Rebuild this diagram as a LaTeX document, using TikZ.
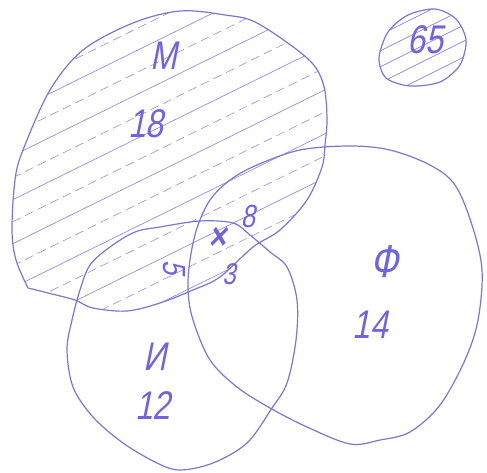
\documentclass[tikz,border=0pt]{standalone}
\usepackage{fontspec}
\newfontfamily\hand[FakeStretch=0.8,FakeSlant=0.2]{Liberation Sans}
\definecolor{pen}{RGB}{122,120,205}
\definecolor{ink}{RGB}{112,100,218}
\definecolor{hat}{RGB}{150,145,220}
\begin{document}
\begin{tikzpicture}[x=1pt,y=-1pt,
  pen/.style={draw=pen, line width=1.2pt, line join=round},
  hatchline/.style={draw=hat, line width=0.7pt},
  hatchdash/.style={draw=hat, line width=0.6pt, dash pattern=on 9pt off 5pt},
  lab/.style={text=ink, inner sep=0pt, font=\hand\fontsize{40}{40}\selectfont},
  labs/.style={text=ink, inner sep=0pt, font=\hand\fontsize{32}{32}\selectfont}]
\useasboundingbox[fill=white] (0,0) rectangle (487,473);

% hatching of M
\begin{scope}
\clip plot[smooth, tension=0.55] coordinates {(28,288) (16,260) (12,230) (15,180) (23,150) (50,90) (83,50) (133,23) (180,11) (225,15) (257,23) (307,58) (323,83) (327,117) (325,145) (322,167) (307,200) (280,230) (253,247) (220,277) (193,290) (160,303) (127,311) (93,308) (75,300) (52,294) (28,288)};
\foreach \c in {30,74,...,640} \draw[hatchline] (0,\c) -- (487,\c-240);
\foreach \c in {52,96,...,640} \draw[hatchdash] (0,\c) -- (487,\c-240);
\end{scope}

% hatching of the mark
\begin{scope}
\clip plot[smooth cycle] coordinates {(379,58) (388,32) (408,15) (435,9) (456,19) (466,40) (460,65) (440,82) (410,86) (386,78)};
\foreach \c in {40,56,...,320} \draw[hatchline] (370,\c) -- (480,\c-55);
\end{scope}

% М
\draw[pen] plot[smooth, tension=0.55] coordinates {(28,288) (16,260) (12,230) (15,180) (23,150) (50,90) (83,50) (133,23) (180,11) (225,15) (257,23) (307,58) (323,83) (327,117) (325,145) (322,167) (307,200) (280,230) (253,247) (220,277) (193,290) (160,303) (127,311) (93,308) (75,300) (52,294) (28,288)};
% И
\draw[pen] plot[smooth cycle, tension=0.55] coordinates {(160,227) (200,221) (233,223) (250,235) (270,252) (287,267) (297,300) (296,340) (287,383) (272,408) (247,443) (213,463) (180,470) (157,463) (123,443) (93,417) (73,387) (67,350) (72,320) (80,290) (90,265) (110,247) (135,232)};
% Ф
\draw[pen] plot[smooth cycle, tension=0.55] coordinates {(190,260) (197,228) (210,200) (230,180) (257,165) (300,150) (350,146) (390,150) (430,165) (455,185) (472,225) (482,270) (478,320) (465,360) (440,405) (410,432) (380,440) (350,444) (307,427) (270,408) (237,387) (210,360) (193,320) (188,290)};
% mark
\draw[pen] plot[smooth cycle] coordinates {(379,58) (388,32) (408,15) (435,9) (456,19) (466,40) (460,65) (440,82) (410,86) (386,78)};

\node[lab] (m) at (164,56) {М};
\node[lab] (m18) at (146,124) {18};
\node[lab, font=\hand\fontsize{46}{46}\selectfont] (f) at (384,262) {Ф};
\node[lab] (f14) at (370,325) {14};
\node[lab] (i) at (155,357) {И};
\node[lab] (i12) at (153,406) {12};
\node[labs] (n8) at (248,216) {8};
\node[labs, font=\hand\fontsize{30}{30}\selectfont] (n3) at (229,274) {3};
\node[labs, font=\hand\bfseries\fontsize{38}{38}\selectfont] (x) at (217,238) {×};
\node[labs, rotate=-90] (n5) at (174,268) {5};
\node[lab] (n65) at (425,40) {65};
\end{tikzpicture}
\end{document}
